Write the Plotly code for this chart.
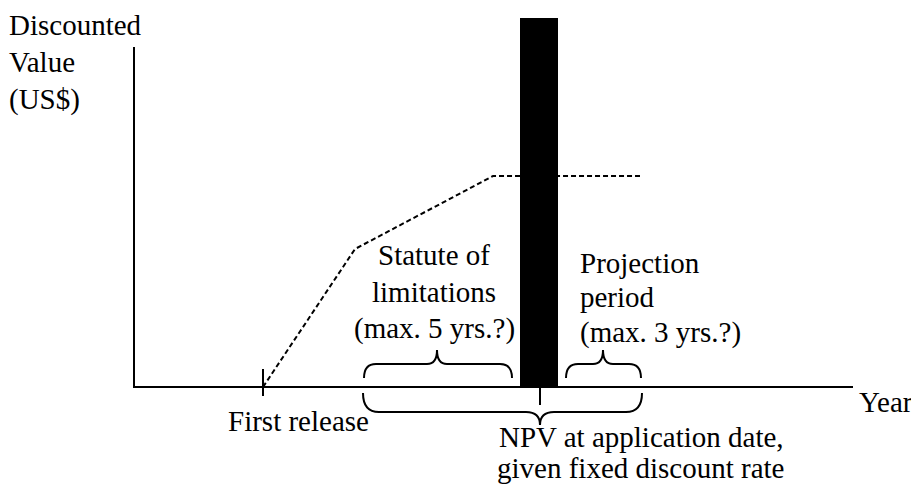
import plotly.graph_objects as go

# ---- data (chart units: x = timeline position, y = discounted value) ----
value_x = [263, 355, 493, 640]
value_y = [0, 138, 211, 211]

npv_x = [539]
npv_value = [369]

axis_x = [134, 134, 853]
axis_y = [340, 0, 0]

release_x = 263
application_x = 540

statute_span = [364, 512]
projection_span = [566, 641]
npv_span = [363, 642]

ylabel_lines = ["Discounted", "Value", "(US$)"]
statute_lines = ["Statute of", "limitations", "(max. 5 yrs.?)"]
projection_lines = ["Projection", "period", "(max. 3 yrs.?)"]
npv_lines = ["NPV at application date,", "given fixed discount rate"]

FONT = dict(family="Liberation Serif", size=29, color="black")

fig = go.Figure()

# axes
fig.add_trace(go.Scatter(x=axis_x, y=axis_y, mode="lines",
                         line=dict(color="black", width=2), hoverinfo="skip"))
# dashed value path
fig.add_trace(go.Scatter(x=value_x, y=value_y, mode="lines",
                         line=dict(color="black", width=2, dash="5px,3px"), hoverinfo="skip"))
# NPV bar
fig.add_trace(go.Bar(x=npv_x, y=npv_value, width=38, marker=dict(color="black", line=dict(width=0))))
# ticks
fig.add_trace(go.Scatter(x=[release_x, release_x], y=[18, -9], mode="lines",
                         line=dict(color="black", width=2), hoverinfo="skip"))
fig.add_trace(go.Scatter(x=[application_x, application_x], y=[0, -18], mode="lines",
                         line=dict(color="black", width=2), hoverinfo="skip"))


def brace(x0, x1, xm, ye, yh, yt, r_end, r_tip):
    return (f"M {x0},{ye} Q {x0},{yh} {x0 + r_end},{yh} "
            f"L {xm - r_tip},{yh} Q {xm},{yh} {xm},{yt} "
            f"Q {xm},{yh} {xm + r_tip},{yh} "
            f"L {x1 - r_end},{yh} Q {x1},{yh} {x1},{ye}")


shapes = []
for span, xm in [(statute_span, 437), (projection_span, 603)]:
    shapes.append(dict(type="path", xref="x", yref="y",
                       path=brace(span[0], span[1], xm, 9, 23, 37, 12, 10),
                       line=dict(color="black", width=2)))
shapes.append(dict(type="path", xref="x", yref="y",
                   path=brace(npv_span[0], npv_span[1], application_x, -6, -25, -38, 16, 14),
                   line=dict(color="black", width=2)))

ann = []
for txt, y in zip(ylabel_lines, [362, 325, 288]):
    ann.append(dict(text=txt, x=7, y=y, xanchor="left", yanchor="middle"))
for txt, y in zip(statute_lines, [132, 95, 59]):
    ann.append(dict(text=txt, x=434, y=y, xanchor="center", yanchor="middle"))
for txt, y in zip(projection_lines, [124, 90, 55]):
    ann.append(dict(text=txt, x=578, y=y, xanchor="left", yanchor="middle"))
ann.append(dict(text="First release", x=298, y=-34, xanchor="center", yanchor="middle"))
ann.append(dict(text="Year", x=857, y=-15, xanchor="left", yanchor="middle"))
for txt, y in zip(npv_lines, [-50, -81]):
    ann.append(dict(text=txt, x=641, y=y, xanchor="center", yanchor="middle"))
for a in ann:
    a.update(xref="x", yref="y", showarrow=False, font=FONT)

fig.update_layout(
    width=911, height=485,
    margin=dict(l=0, r=0, t=0, b=0),
    paper_bgcolor="white", plot_bgcolor="white",
    showlegend=False,
    font=FONT,
    xaxis=dict(range=[0, 911], visible=False, fixedrange=True),
    yaxis=dict(range=[-98, 387], visible=False, fixedrange=True),
    shapes=shapes, annotations=ann,
)

fig.write_html("out.html", config={"displayModeBar": False},
               post_script="document.body.style.margin='0';")
